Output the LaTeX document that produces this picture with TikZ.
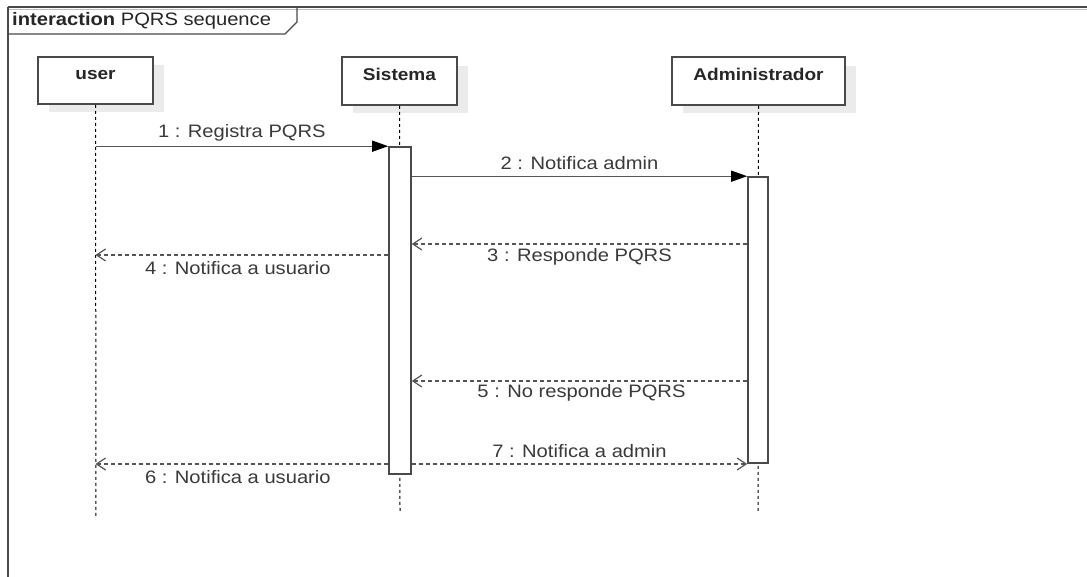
\documentclass[tikz,border=0pt]{standalone}
\usepackage{fontspec}
\usepackage{graphicx}
\setmainfont{Liberation Sans}
\usetikzlibrary{arrows.meta,calc}
\definecolor{lineC}{HTML}{555555}
\definecolor{boxC}{HTML}{4A4A4A}
\definecolor{shadowC}{HTML}{EBEBEB}
\definecolor{textC}{HTML}{3A3A3A}
\newcommand{\wide}[1]{\scalebox{1.12}[1]{#1}}
\tikzset{
  lifebox/.style={draw=boxC, line width=1.6pt, fill=white, minimum height=47pt, inner sep=0pt},
  shadowbox/.style={fill=shadowC, draw=none, minimum height=47pt, inner sep=0pt},
  headtext/.style={font=\fontsize{17}{19}\selectfont\bfseries, text=black!85, inner sep=0pt},
  lifeline/.style={draw=black, line width=1pt, dash pattern=on 3pt off 3pt},
  actbox/.style={draw=boxC, line width=1.6pt, fill=white, inner sep=0pt},
  syncmsg/.style={draw=lineC, line width=1.3pt, -{Triangle[length=16pt,width=11pt,color=black,fill=black]}},
  replymsg/.style={draw=lineC, line width=1.3pt, dash pattern=on 4pt off 3pt, -{Straight Barb[length=9pt,width=12pt,line width=1.2pt]}},
  msglabel/.style={font=\fontsize{18}{20}\selectfont, text=textC, inner sep=0pt},
}
\begin{document}
\begin{tikzpicture}[x=1pt,y=-1pt]
\useasboundingbox (0,0) rectangle (1087,577);
\fill[white] (0,0) rectangle (1087,577);
% frame
\draw[shadowC!80!black, line width=1.2pt] (9,9.8) -- (1087,9.8);
\draw[boxC, line width=1.8pt] (8,7) -- (1087,7);
\draw[boxC, line width=1.8pt] (8,7) -- (8,577);
\draw[boxC, line width=1.2pt] (8,7) -- (297,7) -- (297,22) -- (285,34) -- (8,34);
\node[anchor=west, inner sep=0pt, font=\fontsize{18}{20}\selectfont, text=black!85] (title) at (12,21)
  {\wide{\textbf{interaction} PQRS sequence}};
% shadows
\node[shadowbox, minimum width=115pt] (usersh) at (106.5,89) {};
\node[shadowbox, minimum width=115pt] (syssh) at (410.5,90) {};
\node[shadowbox, minimum width=173pt] (admsh) at (769.5,90) {};
% lifeline boxes
\node[lifebox, minimum width=115pt] (user) at (95.5,80.5) {};
\node[lifebox, minimum width=115pt, minimum height=48pt] (sys) at (399.5,81) {};
\node[lifebox, minimum width=173pt, minimum height=48pt] (adm) at (758.5,81) {};
\node[headtext] (userT) at ($(user.north)+(0,18.5)$) {\wide{user}};
\node[headtext] (sysT) at ($(sys.north)+(0,18.5)$) {\wide{Sistema}};
\node[headtext] (admT) at ($(adm.north)+(0,18.5)$) {\wide{Administrador}};
% lifeline ends
\coordinate (userEnd) at (96,518);
\coordinate (sysEnd) at (400,512);
\coordinate (admEnd) at (758,512);
\draw[lifeline] (user.south) -- (userEnd);
\draw[lifeline] (sys.south) -- (sysEnd);
\draw[lifeline] (adm.south) -- (admEnd);
% activations
\node[actbox, minimum width=22pt, minimum height=327pt] (sysact) at (400,310.5) {};
\node[actbox, minimum width=20pt, minimum height=286pt] (admact) at (758,320) {};
% message rows
\coordinate (r3) at (0,244);
\coordinate (r4) at (0,255);
\coordinate (r5) at (0,381);
\coordinate (r6) at (0,464);
% messages
\draw[syncmsg] (user.south |- sysact.north) -- node[msglabel, midway, yshift=13pt] (l1) {\wide{1 : Registra PQRS}} (sysact.north west);
\draw[syncmsg] (sysact.east |- admact.north) -- node[msglabel, midway, yshift=13pt] (l2) {\wide{2 : Notifica admin}} (admact.north west);
\draw[replymsg] (admact.west |- r3) -- node[msglabel, midway, yshift=-13pt] (l3) {\wide{3 : Responde PQRS}} (sysact.east |- r3);
\draw[replymsg] (sysact.west |- r4) -- node[msglabel, midway, xshift=-4pt, yshift=-13pt] (l4) {\wide{4 : Notifica a usuario}} (user.south |- r4);
\draw[replymsg] (admact.west |- r5) -- node[msglabel, midway, xshift=2pt, yshift=-12pt] (l5) {\wide{5 : No responde PQRS}} (sysact.east |- r5);
\draw[replymsg] (sysact.west |- r6) -- node[msglabel, midway, xshift=-4pt, yshift=-13pt] (l6) {\wide{6 : Notifica a usuario}} (user.south |- r6);
\draw[replymsg] (sysact.east |- r6) -- node[msglabel, midway, yshift=13pt] (l7) {\wide{7 : Notifica a admin}} (admact.west |- r6);
\end{tikzpicture}
\end{document}
